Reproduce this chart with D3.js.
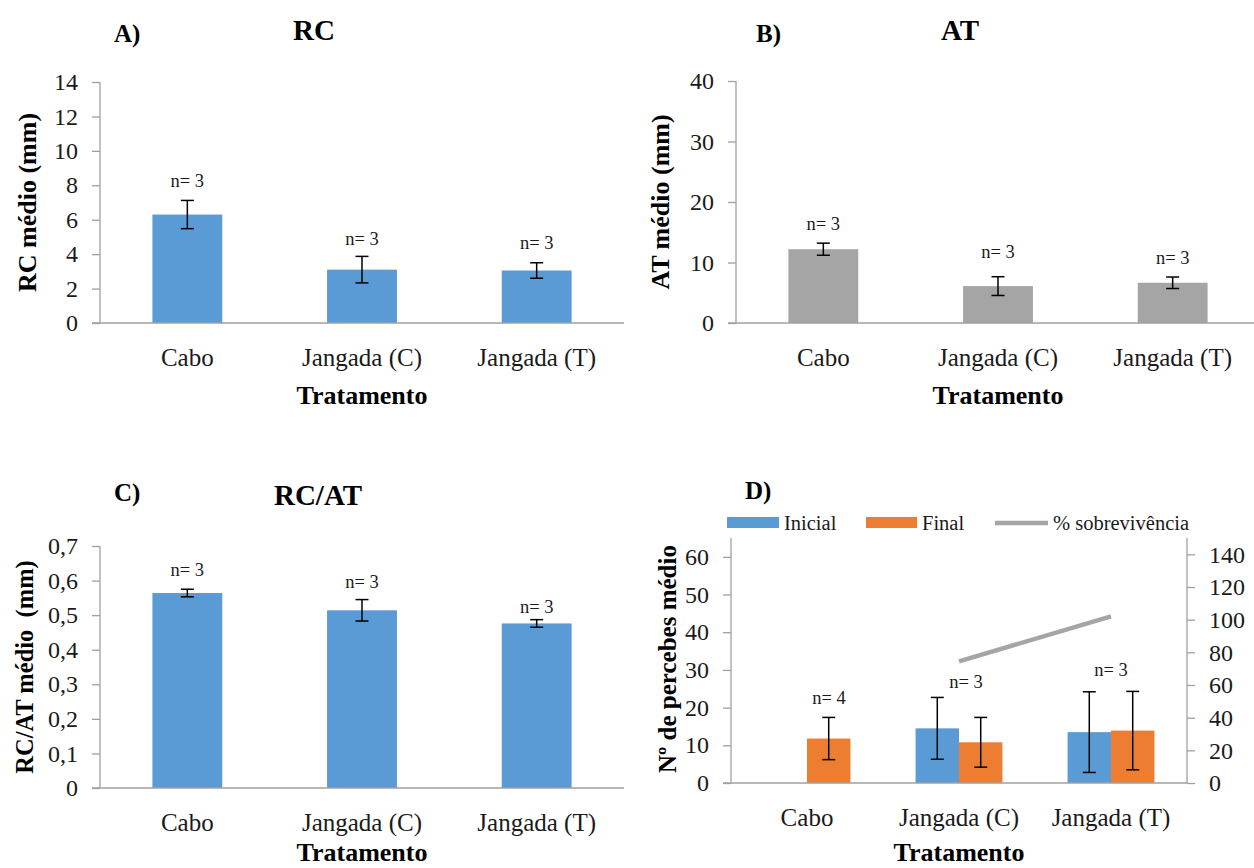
<!DOCTYPE html>
<html><head><meta charset="utf-8">
<script src="https://cdn.jsdelivr.net/npm/d3@7"></script>
<style>
body{margin:0;background:#fff;}
svg{display:block;}
svg text{font-family:"Liberation Serif","Times New Roman",serif;white-space:pre;}
</style></head>
<body>
<svg id="chart" width="1254" height="868"></svg>
<script>
// ---------- DATA ----------
const categories = ["Cabo", "Jangada (C)", "Jangada (T)"];
const nLabelsABC = ["n= 3", "n= 3", "n= 3"];

const rcMean = [6.3, 3.1, 3.05];
const rcErr  = [0.82, 0.77, 0.45];
const rcTicks = [0, 2, 4, 6, 8, 10, 12, 14];

const atMean = [12.2, 6.1, 6.65];
const atErr  = [1.0, 1.55, 0.95];
const atTicks = [0, 10, 20, 30, 40];

const ratioMean = [0.564, 0.514, 0.476];
const ratioErr  = [0.011, 0.031, 0.011];
const ratioTicks = [0, 0.1, 0.2, 0.3, 0.4, 0.5, 0.6, 0.7];

const inicialMean = [0, 14.5, 13.5];
const inicialErr  = [null, 8.2, 10.7];
const finalMean   = [11.8, 10.8, 13.9];
const finalErr    = [5.6, 6.6, 10.4];
const survival    = [null, 74.5, 102];
const nLabelsD    = ["n= 4", "n= 3", "n= 3"];
const dLeftTicks  = [0, 10, 20, 30, 40, 50, 60];
const dRightTicks = [0, 20, 40, 60, 80, 100, 120, 140];
const legendLabels = ["Inicial", "Final", "% sobrevivência"];

// ---------- STYLE ----------
const BLUE = "#5b9bd5", ORANGE = "#ed7d31", GREY = "#a5a5a5";
const AXIS = "#a0a0a0", TXT = "#1a1a1a";
const FONT = "Liberation Serif";
const TICK_FS = 24, XLAB_FS = 25, N_FS = 18.5;
const svg = d3.select("#chart");

function yAxisLeft(g, y, ticks, fmt, x0) {
  const ax = d3.axisLeft(y).tickValues(ticks).tickSize(8).tickPadding(14).tickFormat(fmt);
  const a = g.append("g").attr("transform", `translate(${x0},0)`).call(ax).attr("font-family", FONT);
  a.select(".domain").attr("stroke", AXIS).attr("stroke-width", 1.3).attr("d", `M0,${y.range()[0]}V${y.range()[1]}`);
  a.selectAll(".tick line").attr("stroke", AXIS).attr("stroke-width", 1.3);
  a.selectAll(".tick text").attr("font-size", TICK_FS).attr("fill", TXT).attr("font-family", FONT);
  return a;
}
function xAxis(g, x, y0, x0, x1, labelY) {
  g.append("line").attr("x1", x0 - 8).attr("x2", x1).attr("y1", y0).attr("y2", y0)
    .attr("stroke", AXIS).attr("stroke-width", 1.5);
  g.selectAll(".xl").data(categories).enter().append("text")
    .attr("x", d => x(d) + x.bandwidth() / 2).attr("y", labelY)
    .attr("text-anchor", "middle").attr("dominant-baseline", "central")
    .attr("font-family", FONT).attr("font-size", XLAB_FS).attr("fill", TXT).text(d => d);
}
function errBar(g, cx, yTop, yBot) {
  const e = g.append("g").attr("stroke", "#000").attr("stroke-width", 1.5);
  e.append("line").attr("x1", cx).attr("x2", cx).attr("y1", yTop).attr("y2", yBot);
  e.append("line").attr("x1", cx - 6.5).attr("x2", cx + 6.5).attr("y1", yTop).attr("y2", yTop);
  e.append("line").attr("x1", cx - 6.5).attr("x2", cx + 6.5).attr("y1", yBot).attr("y2", yBot);
}
function boldText(x, y, txt, size, anchor, rotate) {
  const t = svg.append("text").attr("font-weight", "bold").attr("font-size", size).attr("font-family", FONT)
    .attr("fill", "#000").attr("text-anchor", anchor || "middle").attr("dominant-baseline", "central").text(txt);
  if (rotate) t.attr("transform", `translate(${x},${y}) rotate(-90)`);
  else t.attr("x", x).attr("y", y);
  return t;
}

function simplePanel(p) {
  const g = svg.append("g");
  const x = d3.scaleBand().domain(categories).range([p.x0, p.x1]);
  const y = d3.scaleLinear().domain(p.domain).range([p.yBot, p.yTop]);
  yAxisLeft(g, y, p.ticks, p.fmt, p.x0);
  const bw = x.bandwidth() / 2.5;
  categories.forEach((c, i) => {
    const cx = x(c) + x.bandwidth() / 2;
    g.append("rect").attr("x", cx - bw / 2).attr("width", bw)
      .attr("y", y(p.mean[i])).attr("height", y(0) - y(p.mean[i])).attr("fill", p.color);
    errBar(g, cx, y(p.mean[i] + p.err[i]), y(p.mean[i] - p.err[i]));
    g.append("text").attr("x", cx).attr("y", p.nY[i]).attr("text-anchor", "middle").attr("font-family", FONT)
      .attr("dominant-baseline", "central").attr("font-size", N_FS).attr("fill", TXT).text(nLabelsABC[i]);
  });
  xAxis(g, x, y(0), p.x0, p.x1, p.labelY);
  boldText(p.letterX, p.letterY, p.letter, 25, "start");
  boldText(p.titleX, p.titleY, p.title, 29);
  boldText(p.ylabX, (p.yTop + p.yBot) / 2, p.ylab, p.ylabFs, "middle", true);
  boldText((p.x0 + p.x1) / 2, p.xtitleY, "Tratamento", 26);
}

const fmtInt = d3.format("d");
const fmtComma = d => d === 0 ? "0" : d3.format(".1f")(d).replace(".", ",");

simplePanel({x0: 100, x1: 624, yTop: 82, yBot: 323, domain: [0, 14], ticks: rcTicks, fmt: fmtInt,
  mean: rcMean, err: rcErr, color: BLUE, nY: [181, 239, 243], labelY: 357,
  letter: "A)", letterX: 114, letterY: 33, title: "RC", titleX: 314, titleY: 30,
  ylab: "RC médio (mm)", ylabX: 27, ylabFs: 26, xtitleY: 395});

simplePanel({x0: 736, x1: 1260, yTop: 81, yBot: 323, domain: [0, 40], ticks: atTicks, fmt: fmtInt,
  mean: atMean, err: atErr, color: GREY, nY: [224, 252, 258], labelY: 357,
  letter: "B)", letterX: 756, letterY: 33, title: "AT", titleX: 960, titleY: 30,
  ylab: "AT médio (mm)", ylabX: 660, ylabFs: 26, xtitleY: 395});

simplePanel({x0: 100, x1: 624, yTop: 546, yBot: 788, domain: [0, 0.7], ticks: ratioTicks, fmt: fmtComma,
  mean: ratioMean, err: ratioErr, color: BLUE, nY: [570, 582, 607], labelY: 822,
  letter: "C)", letterX: 114, letterY: 492, title: "RC/AT", titleX: 318, titleY: 495,
  ylab: "RC/AT médio  (mm)", ylabX: 24, ylabFs: 24.5, xtitleY: 852});

// ---------- PANEL D ----------
(function () {
  const g = svg.append("g");
  const x0 = 731, x1 = 1187, yTop = 538, yBot = 783;
  const x = d3.scaleBand().domain(categories).range([x0, x1]);
  const yL = d3.scaleLinear().domain([0, 65]).range([yBot, yTop]);
  const yR = d3.scaleLinear().domain([0, 150]).range([yBot, yTop]);
  yAxisLeft(g, yL, dLeftTicks, fmtInt, x0);
  const axR = d3.axisRight(yR).tickValues(dRightTicks).tickSize(8).tickPadding(14).tickFormat(fmtInt);
  const a = g.append("g").attr("transform", `translate(${x1},0)`).call(axR).attr("font-family", FONT);
  a.select(".domain").attr("stroke", AXIS).attr("stroke-width", 1.3).attr("d", `M0,${yBot}V${yTop}`);
  a.selectAll(".tick line").attr("stroke", AXIS).attr("stroke-width", 1.3);
  a.selectAll(".tick text").attr("font-size", TICK_FS).attr("fill", TXT).attr("font-family", FONT);

  const gw = x.bandwidth() / 1.75;
  const sub = d3.scaleBand().domain(["Inicial", "Final"]).range([0, gw]);
  categories.forEach((c, i) => {
    const gx = x(c) + x.bandwidth() / 2 - gw / 2;
    const series = [["Inicial", inicialMean[i], inicialErr[i], BLUE], ["Final", finalMean[i], finalErr[i], ORANGE]];
    series.forEach(([k, m, e, col]) => {
      const bx = gx + sub(k);
      if (m > 0) {
        g.append("rect").attr("x", bx).attr("width", sub.bandwidth()).attr("y", yL(m))
          .attr("height", yL(0) - yL(m)).attr("fill", col);
      }
      if (e != null) errBar(g, bx + sub.bandwidth() / 2, yL(m + e), yL(m - e));
    });
  });
  // survival line (right axis)
  const pts = categories.map((c, i) => [x(c) + x.bandwidth() / 2, survival[i]]).filter(d => d[1] != null);
  g.append("path").datum(pts)
    .attr("d", d3.line().x(d => d[0]).y(d => yR(d[1])))
    .attr("fill", "none").attr("stroke", GREY).attr("stroke-width", 4.5);
  // n labels
  const nPos = [[829, 698], [966, 682], [1111, 670]];
  nLabelsD.forEach((t, i) => {
    g.append("text").attr("x", nPos[i][0]).attr("y", nPos[i][1]).attr("text-anchor", "middle").attr("font-family", FONT)
      .attr("dominant-baseline", "central").attr("font-size", N_FS).attr("fill", TXT).text(t);
  });
  xAxis(g, x, yBot, x0, x1, 817);
  // legend
  const lg = g.append("g");
  lg.append("rect").attr("x", 727).attr("y", 517).attr("width", 52).attr("height", 11).attr("fill", BLUE);
  lg.append("text").attr("x", 784).attr("y", 523).text(legendLabels[0]);
  lg.append("rect").attr("x", 866).attr("y", 517).attr("width", 51).attr("height", 11).attr("fill", ORANGE);
  lg.append("text").attr("x", 922).attr("y", 523).text(legendLabels[1]);
  lg.append("line").attr("x1", 995).attr("x2", 1048).attr("y1", 523).attr("y2", 523)
    .attr("stroke", GREY).attr("stroke-width", 4.5);
  lg.append("text").attr("x", 1053).attr("y", 523).text(legendLabels[2]);
  lg.selectAll("text").attr("font-size", 20.5).attr("fill", TXT).attr("dominant-baseline", "central").attr("font-family", FONT);

  boldText(745, 490, "D)", 25, "start");
  boldText(667, 659, "Nº de percebes médio", 25, "middle", true);
  boldText((x0 + x1) / 2, 852, "Tratamento", 26);
})();
</script>
</body></html>
